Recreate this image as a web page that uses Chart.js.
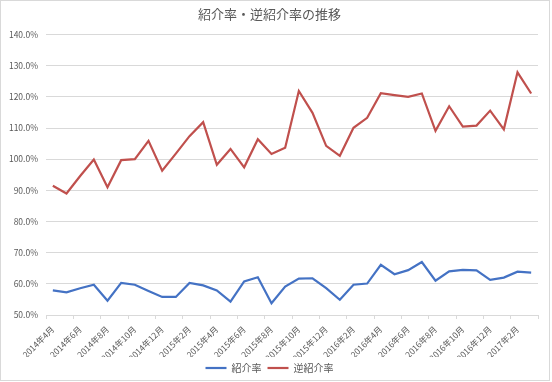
<!DOCTYPE html>
<html><head><meta charset="utf-8">
<script src="https://cdn.jsdelivr.net/npm/chart.js@4.4.0/dist/chart.umd.min.js"></script>
<style>
html,body{margin:0;padding:0;background:#fff;}
#c{position:absolute;left:0;top:0;}
#frame{position:absolute;left:0;top:0;width:548px;height:379px;border:1px solid #d9d9d9;pointer-events:none;}
</style></head>
<body>
<canvas id="c" width="552" height="382"></canvas>
<div id="frame"></div>
<script>
const categories = [
 "2014年4月","2014年5月","2014年6月","2014年7月","2014年8月","2014年9月","2014年10月","2014年11月","2014年12月","2015年1月","2015年2月","2015年3月",
 "2015年4月","2015年5月","2015年6月","2015年7月","2015年8月","2015年9月","2015年10月","2015年11月","2015年12月","2016年1月","2016年2月","2016年3月",
 "2016年4月","2016年5月","2016年6月","2016年7月","2016年8月","2016年9月","2016年10月","2016年11月","2016年12月","2017年1月","2017年2月","2017年3月"
];
const shoukai = [57.9,57.3,58.6,59.7,54.6,60.3,59.7,57.7,55.8,55.8,60.3,59.5,57.9,54.3,60.8,62.1,53.8,59.1,61.7,61.8,58.6,54.9,59.7,60.1,66.1,63.1,64.4,67.0,61.0,64.0,64.5,64.3,61.3,62.0,63.9,63.6];
const gyakuShoukai = [91.5,89.0,94.6,99.9,91.0,99.7,100.0,105.9,96.3,101.8,107.4,111.9,98.2,103.3,97.4,106.4,101.7,103.7,121.9,114.9,104.3,101.1,110.1,113.3,121.2,120.6,120.0,121.1,109.1,117.0,110.5,110.8,115.6,109.6,127.9,121.1];
const seriesNames = ["紹介率","逆紹介率"];
const title = "紹介率・逆紹介率の推移";

const FONT = "'Noto Sans CJK JP','Noto Sans',sans-serif";
const TXT = '#595959';
const GRID = '#d9d9d9';

new Chart(document.getElementById('c'), {
  type: 'line',
  data: {
    labels: categories,
    datasets: [
      {label: seriesNames[0], data: shoukai, borderColor: '#4472C4', backgroundColor: '#4472C4', borderWidth: 2.2, pointRadius: 0, tension: 0},
      {label: seriesNames[1], data: gyakuShoukai, borderColor: '#C0504D', backgroundColor: '#C0504D', borderWidth: 2.2, pointRadius: 0, tension: 0}
    ]
  },
  options: {
    responsive: false,
    animation: false,
    layout: {padding: {left: 1, right: 14, top: 0, bottom: -1}},
    plugins: {
      title: {display: true, text: title, color: TXT, font: {family: FONT, size: 13, weight: 'normal'}, padding: {top: 6, bottom: 13}},
      legend: {position: 'bottom', labels: {usePointStyle: true, pointStyle: 'line', pointStyleWidth: 21, color: TXT, font: {family: FONT, size: 10}, padding: 6}},
      tooltip: {enabled: false}
    },
    scales: {
      x: {
        offset: true,
        grid: {offset: true, drawOnChartArea: false, tickLength: 4,
          color: (ctx) => (ctx.index === undefined || ctx.index % 2 === 0) ? GRID : 'rgba(0,0,0,0)'},
        border: {display: false},
        afterFit: (s) => { s.height = 42; },
        ticks: {autoSkip: false, maxRotation: 45, minRotation: 45, color: TXT, font: {family: FONT, size: 8.5}, padding: 5,
          callback: function(v, i){ return i % 2 === 0 ? this.getLabelForValue(v) : ''; }}
      },
      y: {
        min: 50, max: 140,
        grid: {color: GRID, drawTicks: false},
        border: {display: false},
        afterFit: (s) => { s.width = 45; },
        ticks: {stepSize: 10, color: TXT, font: {family: FONT, size: 8.5}, padding: 8,
          callback: (v) => v.toFixed(1) + '%'}
      }
    }
  }
});
</script>
</body></html>
